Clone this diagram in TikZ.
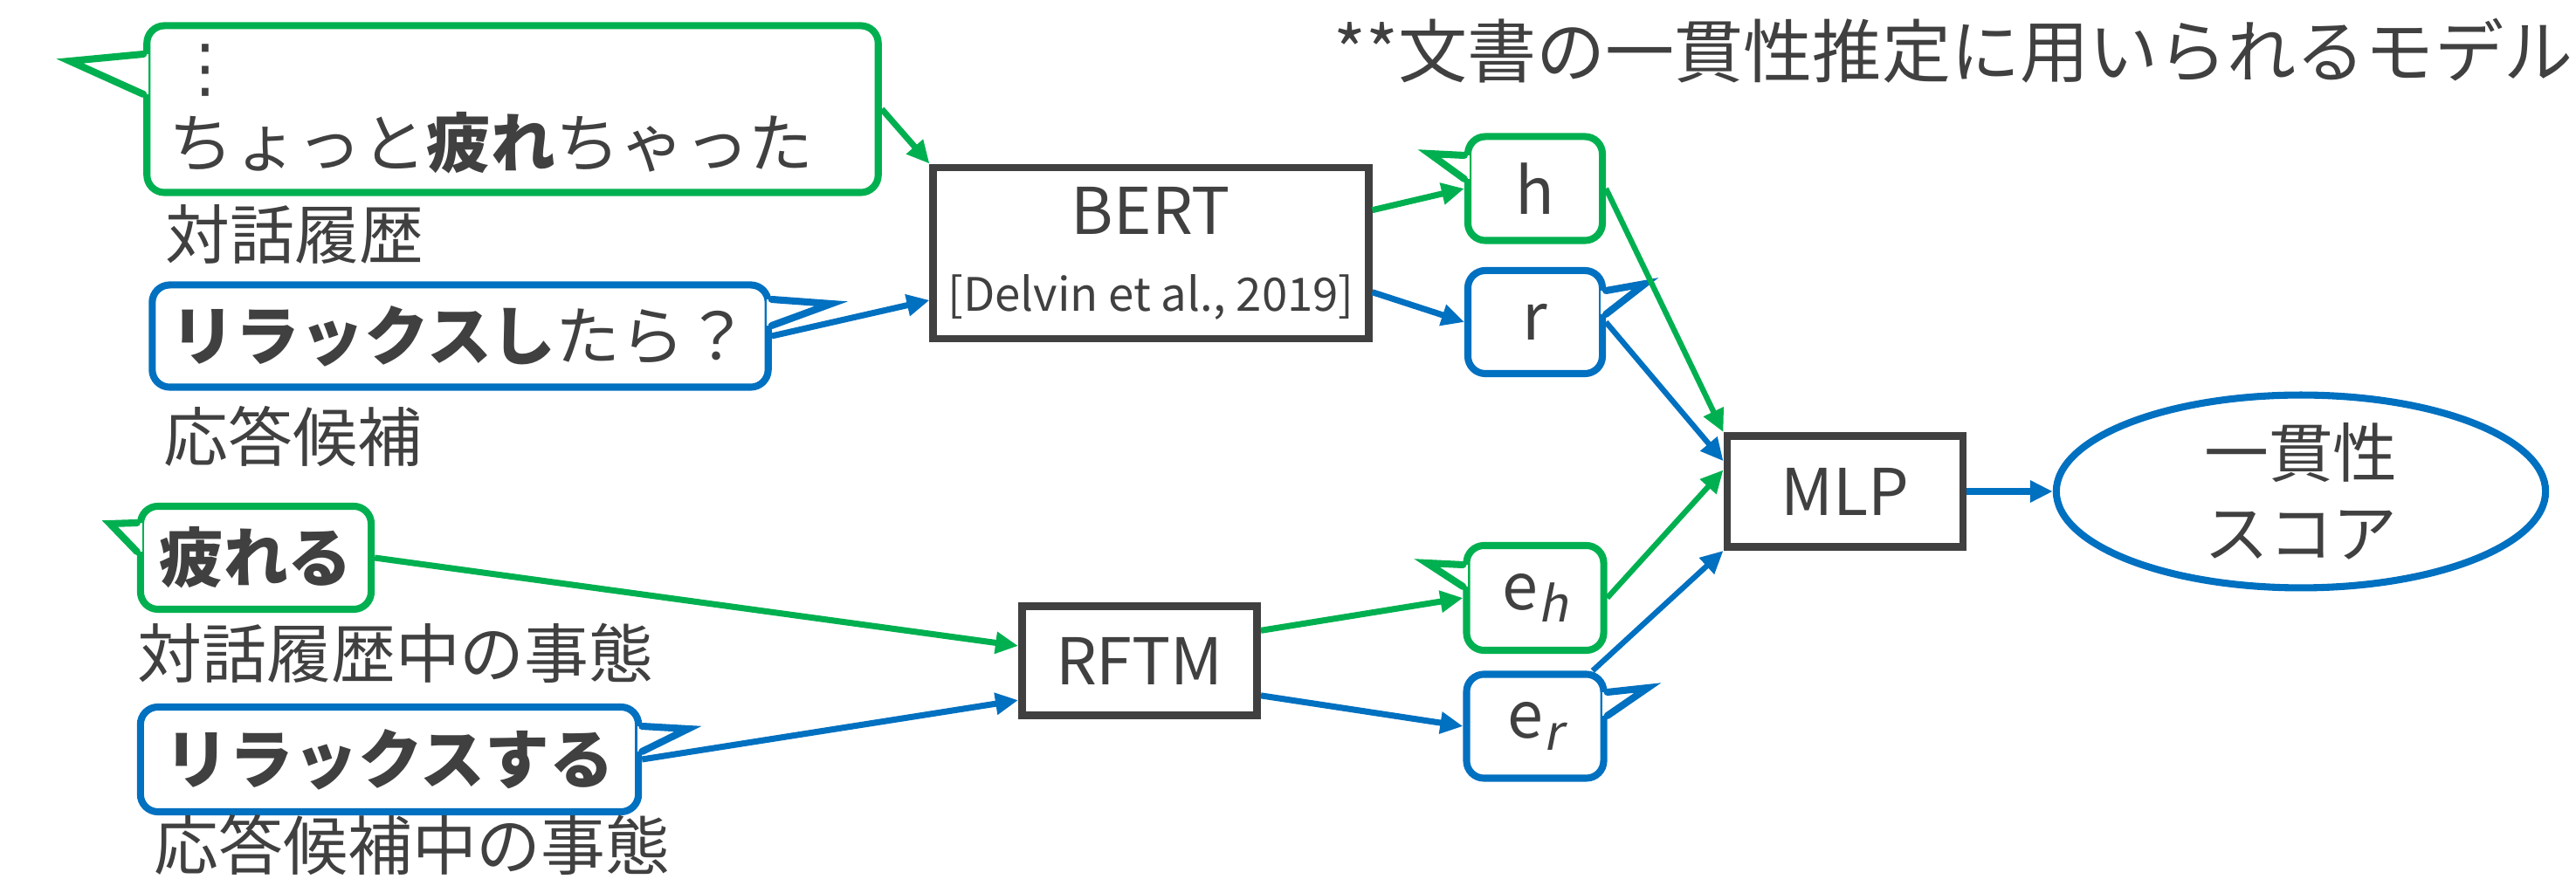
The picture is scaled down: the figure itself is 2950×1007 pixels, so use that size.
\documentclass[tikz,border=0pt]{standalone}
\usepackage{fontspec}
\setmainfont{Noto Sans CJK JP}
\newfontfamily\slantfont[FakeSlant=0.2]{Noto Sans CJK JP}
\newfontfamily\symfont{DejaVu Sans}
\usetikzlibrary{arrows.meta,shapes.geometric}
\definecolor{grn}{HTML}{00B050}
\definecolor{blu}{HTML}{0070C0}
\definecolor{ink}{HTML}{404040}
\tikzset{
  lbl/.style={text=ink,font=\fontsize{21}{25}\selectfont,inner sep=0pt},
  bub/.style={lbl,draw=#1,fill=white,line width=2.3pt,rounded corners=0.2cm},
  blk/.style={lbl,draw=ink,line width=2.5pt},
  arr/.style={draw=#1,line width=2pt,-{Triangle[length=0.26cm,width=0.24cm]}},
  thinarr/.style={arr=#1,line width=1.8pt},
}
\newcommand{\esub}[1]{\raisebox{-0.35ex}{\fontsize{16}{16}\selectfont\slantfont #1}}
\newcommand{\tail}[6]{%
  \draw[white,line width=3.2pt] (#2.#3 |- 0,#4) -- (#2.#3 |- 0,#6);
  \draw[#1,line width=2.3pt,line cap=round] (#2.#3 |- 0,#4) -- (#5) -- (#2.#3 |- 0,#6);
}
\begin{document}
\begin{tikzpicture}[x=0.01cm,y=-0.01cm]
  \useasboundingbox (0,0) rectangle (2950,1007);
  \node[lbl,font=\fontsize{22.5}{27}\selectfont,anchor=east] (title) at (2947,58) {**文書の一貫性推定に用いられるモデル};

  \node[bub=grn,minimum width=8.37cm,minimum height=1.91cm,text width=7.87cm,align=left] (hist) at (587,125) {\hspace{0.05cm}{\symfont ⋮}\\ちょっと\textbf{疲れ}ちゃった};
  \node[lbl,anchor=west] (histlbl) at (189,268) {対話履歴};
  \node[bub=blu,minimum width=7.05cm,minimum height=1.17cm] (resp) at (527,385) {\textbf{リラックスし}たら？};
  \node[lbl,anchor=west] (resplbl) at (187,500) {応答候補};
  \node[bub=grn,minimum width=2.64cm,minimum height=1.18cm] (evh) at (293,639) {\textbf{疲れる}};
  \node[lbl,anchor=west] (evhlbl) at (157,748) {対話履歴中の事態};
  \node[bub=blu,minimum width=5.7cm,minimum height=1.2cm] (evr) at (446,870) {\textbf{リラックスする}};
  \node[lbl,anchor=west] (evrlbl) at (176,968) {応答候補中の事態};

  \node[blk,minimum width=4.98cm,minimum height=1.96cm,align=center] (bert) at (1318,290) {BERT\\{\fontsize{15}{18}\selectfont [Delvin et al., 2019]}};
  \node[blk,minimum width=2.69cm,minimum height=1.25cm] (rftm) at (1305,757) {RFTM};

  \node[bub=grn,minimum width=1.54cm,minimum height=1.19cm] (hvec) at (1758,216) {h};
  \node[bub=blu,minimum width=1.54cm,minimum height=1.18cm] (rvec) at (1758,369) {r};
  \node[bub=grn,minimum width=1.57cm,minimum height=1.2cm] (ehvec) at (1758,685) {e\esub{h}};
  \node[bub=blu,minimum width=1.57cm,minimum height=1.19cm] (ervec) at (1758,832) {e\esub{r}};

  \node[blk,minimum width=2.7cm,minimum height=1.27cm] (mlp) at (2113,563) {MLP};
  \node[lbl,ellipse,draw=blu,line width=2.3pt,minimum width=5.6cm,minimum height=2.1cm,align=center,font=\fontsize{21}{26}\selectfont] (score) at (2635,563) {一貫性\\スコア};

  \tail{grn}{hist}{west}{62}{80,70}{108}
  \tail{blu}{resp}{east}{343}{952,348}{373}
  \tail{grn}{evh}{west}{599}{126,600}{632}
  \tail{blu}{evr}{east}{832}{788,835}{861}
  \tail{grn}{hvec}{west}{178}{1637,176}{205}
  \tail{blu}{rvec}{east}{333}{1884,325}{360}
  \tail{grn}{ehvec}{west}{647}{1634,645}{672}
  \tail{blu}{ervec}{east}{793}{1887,788}{820}

  \draw[arr=grn] (hist.east) -- (bert.north west);
  \draw[arr=blu] (resp.east) -- (bert.192);
  \draw[arr=grn] (bert.11) -- (hvec.west);
  \draw[arr=blu] (bert.-10) -- (rvec.west);
  \draw[arr=grn] (evh.east) -- (rftm.173);
  \draw[arr=blu] (evr.east) -- (rftm.198);
  \draw[arr=grn] (rftm.14) -- (ehvec.west);
  \draw[arr=blu] (rftm.-16) -- (ervec.west);
  \draw[thinarr=grn] (hvec.east) -- (mlp.north west);
  \draw[thinarr=blu] (rvec.east) -- (mlp.166);
  \draw[thinarr=grn] (ehvec.east) -- (mlp.170);
  \draw[thinarr=blu] (ervec.44) -- (mlp.south west);
  \draw[arr=blu] (mlp.east) -- (score.west);
\end{tikzpicture}
\end{document}
